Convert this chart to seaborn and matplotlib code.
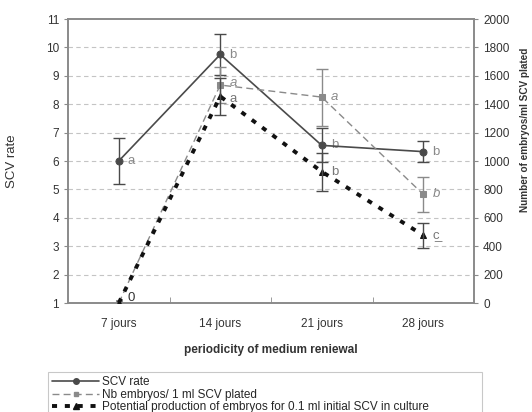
import numpy as np
import pandas as pd
import matplotlib
matplotlib.use('Agg')
from matplotlib import pyplot as plt
from matplotlib.lines import Line2D
import seaborn as sns

days = ['7 jours', '14 jours', '21 jours', '28 jours']
scv_rate = [6.0, 9.75, 6.55, 6.33]
scv_err = [0.8, 0.72, 0.6, 0.38]
scv_letters = ['a', 'b', 'b', 'b']
nb_embryos = [0, 1535, 1450, 765]
nb_err = [0, 130, 200, 123]
nb_letters = ['', 'a', 'a', 'b']
potential = [0, 1455, 925, 477]
pot_err = [0, 133, 133, 88]
pot_letters = ['0', 'a', 'b', 'c\u0332']

sns.set_style('white')
plt.rcParams['font.family'] = ['Liberation Sans', 'DejaVu Sans']

df = pd.DataFrame({'x': np.arange(len(days)), 'scv': scv_rate,
                   'nb': nb_embryos, 'pot': potential})

fig = plt.figure(figsize=(5.32, 4.12), dpi=100)
ax = fig.add_axes([68/532, 1-303/412, 406/532, 284/412])
ax2 = ax.twinx()

grey = '#8a8a8a'
dark = '#4a4a4a'

# grid (left axis ticks line up with right axis ticks)
for v in range(2, 11):
    ax.axhline(v, color='#c4c4c4', lw=0.8, ls=(0, (4, 3)), zorder=0)

# SCV rate on left axis
sns.lineplot(data=df, x='x', y='scv', ax=ax, color=dark, lw=1.2,
             marker='o', markersize=5, markeredgecolor=dark, zorder=5)
ax.errorbar(df['x'], scv_rate, yerr=scv_err, fmt='none', ecolor=dark,
            elinewidth=1, capsize=4, capthick=1, zorder=5)

# embryos on right axis
sns.lineplot(data=df, x='x', y='nb', ax=ax2, color=grey, lw=1.0,
             linestyle=(0, (5, 3)), marker='s', markersize=4.5,
             markeredgecolor=grey, zorder=3)
m = np.array(nb_err) > 0
ax2.errorbar(df['x'][m], np.array(nb_embryos)[m], yerr=np.array(nb_err)[m],
             fmt='none', ecolor=grey, elinewidth=1, capsize=4, capthick=1, zorder=3)

sns.lineplot(data=df, x='x', y='pot', ax=ax2, color='#111111', lw=2.8,
             linestyle=(0, (1.3, 2.0)), marker='^', markersize=5,
             markeredgecolor='#111111', zorder=4)
m = np.array(pot_err) > 0
ax2.errorbar(df['x'][m], np.array(potential)[m], yerr=np.array(pot_err)[m],
             fmt='none', ecolor=dark, elinewidth=1, capsize=4, capthick=1, zorder=4)

# letters
for i in range(len(days)):
    ax.text(i + 0.09, scv_rate[i], scv_letters[i], color=grey, fontsize=9.5,
            va='center', ha='left')
    if nb_letters[i]:
        ax2.text(i + 0.09, nb_embryos[i] + (15 if i == 1 else 0), nb_letters[i],
                 color=grey, fontsize=9.5, va='center', ha='left', style='italic')
    ax2.text(i + 0.09, potential[i] + (35 if i == 0 else -15 if i == 1 else 0),
             pot_letters[i], color='#777777' if i else '#333333', fontsize=9.5,
             va='center', ha='left')

ax.set_xlim(-0.5, 3.5)
ax.set_ylim(1, 11)
ax2.set_ylim(0, 2000)
ax.set_yticks(range(1, 12))
ax2.set_yticks(range(0, 2001, 200))
ax.set_xticks(range(len(days)))
ax.set_xticklabels(days)
ax.set_xticks([0.5, 1.5, 2.5], minor=True)
ax.tick_params(axis='x', which='major', length=0, labelsize=8.5, pad=11, colors='#333333')
ax.tick_params(axis='x', which='minor', length=4, direction='in', color=grey, bottom=True)
ax.tick_params(axis='y', length=3, direction='out', labelsize=8.5, color=grey,
               labelcolor='#333333', left=True)
ax2.tick_params(axis='y', length=3, direction='out', labelsize=8.5, color=grey,
                labelcolor='#333333', right=True)

for a in (ax, ax2):
    for s in a.spines.values():
        s.set_color(grey)
        s.set_linewidth(1.2)

ax.set_xlabel('periodicity of medium reniewal', fontsize=8.5, fontweight='bold',
              labelpad=10, color='#333333')
ax.set_ylabel('SCV rate', fontsize=9.5, color='#333333')
ax.yaxis.set_label_coords(-0.123, 0.5)
ax2.set_ylabel('Number of embryos/ml SCV plated', fontsize=7.2, fontweight='bold',
               color='#333333')
ax2.yaxis.set_label_coords(1.114, 0.61)

handles = [
    Line2D([], [], color=dark, lw=1.2, marker='o', markersize=4),
    Line2D([], [], color=grey, lw=1.0, ls=(0, (5, 3)), marker='s', markersize=3.5),
    Line2D([], [], color='#111111', lw=2.8, ls=(0, (1.3, 2.0)), marker='^', markersize=4),
]
labels = ['SCV rate', 'Nb embryos/ 1 ml SCV plated',
          'Potential production of embryos for 0.1 ml initial SCV in culture']
leg = fig.legend(handles, labels, loc='upper left',
                 bbox_to_anchor=(48/532, 1-372/412, 434/532, 0.0), mode='expand',
                 fontsize=8.5, frameon=True, fancybox=False, handlelength=4.0,
                 labelspacing=0.05, borderpad=0.35, handletextpad=0.2,
                 borderaxespad=0)
leg.get_frame().set_edgecolor('#bbbbbb')
leg.get_frame().set_linewidth(0.8)

fig.savefig('out.png', dpi=100)
